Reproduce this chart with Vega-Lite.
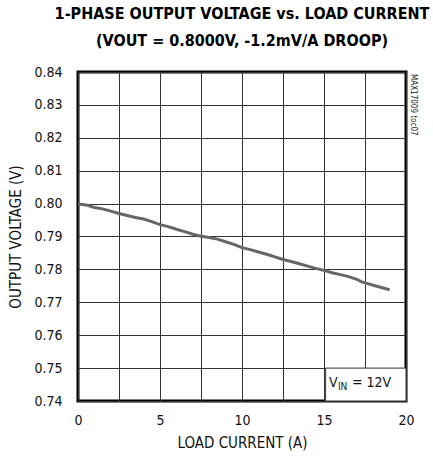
{
  "$schema": "https://vega.github.io/schema/vega-lite/v6.json",
  "autosize": "none",
  "width": 328,
  "height": 329,
  "padding": {"left": 78, "top": 72, "right": 27, "bottom": 58},
  "background": "white",
  "config": {
    "font": "DejaVu Sans Condensed",
    "view": {"stroke": "black", "strokeWidth": 3},
    "axis": {"labelFont": "DejaVu Sans Condensed", "titleFont": "DejaVu Sans Condensed", "labelColor": "#111", "titleColor": "#111", "labelFontSize": 14, "titleFontSize": 15, "titleFontWeight": "normal", "ticks": false, "domain": false, "gridColor": "#333", "gridWidth": 1, "gridOpacity": 1, "labelOverlap": false}
  },
  "title": {
    "text": ["1-PHASE OUTPUT VOLTAGE vs. LOAD CURRENT", "(VOUT = 0.8000V, -1.2mV/A DROOP)"],
    "font": "DejaVu Sans Condensed",
    "fontSize": 16,
    "fontWeight": "bold",
    "color": "black",
    "anchor": "middle",
    "lineHeight": 27,
    "offset": 16
  },
  "datasets": {
    "curve": [
      {"x": 0, "y": 0.7999}, {"x": 0.5, "y": 0.7996}, {"x": 1, "y": 0.7988}, {"x": 1.5, "y": 0.7984},
      {"x": 2, "y": 0.7977}, {"x": 2.5, "y": 0.7970}, {"x": 3, "y": 0.7964}, {"x": 3.5, "y": 0.7958},
      {"x": 4, "y": 0.7953}, {"x": 4.5, "y": 0.7945}, {"x": 5, "y": 0.7936}, {"x": 5.5, "y": 0.7930},
      {"x": 6, "y": 0.7922}, {"x": 6.5, "y": 0.7915}, {"x": 7, "y": 0.7907}, {"x": 7.5, "y": 0.7901},
      {"x": 8, "y": 0.7897}, {"x": 8.5, "y": 0.7892}, {"x": 9, "y": 0.7884}, {"x": 9.5, "y": 0.7876},
      {"x": 10, "y": 0.7866}, {"x": 10.5, "y": 0.7860}, {"x": 11, "y": 0.7853}, {"x": 11.5, "y": 0.7846},
      {"x": 12, "y": 0.7838}, {"x": 12.5, "y": 0.7830}, {"x": 13, "y": 0.7824}, {"x": 13.5, "y": 0.7817},
      {"x": 14, "y": 0.7810}, {"x": 14.5, "y": 0.7803}, {"x": 15, "y": 0.7797}, {"x": 15.5, "y": 0.7790},
      {"x": 16, "y": 0.7784}, {"x": 16.5, "y": 0.7778}, {"x": 17, "y": 0.7770}, {"x": 17.3, "y": 0.7762},
      {"x": 17.5, "y": 0.7759}, {"x": 18, "y": 0.7752}, {"x": 18.5, "y": 0.7745}, {"x": 19, "y": 0.7738}
    ],
    "box": [{"x": 15.1, "x2": 20, "y": 0.74, "y2": 0.75}],
    "note": [{"x": 20, "y": 0.84, "t": "MAX17009 toc07"}],
    "vin": [{"x": 15.3, "y": 0.7443}]
  },
  "encoding": {
    "x": {"field": "x", "type": "quantitative", "title": "LOAD CURRENT (A)",
          "scale": {"domain": [0, 20], "nice": false},
          "axis": {"values": [0, 2.5, 5, 7.5, 10, 12.5, 15, 17.5, 20], "labelExpr": "datum.value % 5 == 0 ? datum.label : ''", "labelPadding": 12, "titlePadding": 8, "labelFlush": false}},
    "y": {"field": "y", "type": "quantitative", "title": "OUTPUT VOLTAGE (V)",
          "scale": {"domain": [0.74, 0.84], "nice": false, "zero": false},
          "axis": {"values": [0.74, 0.75, 0.76, 0.77, 0.78, 0.79, 0.8, 0.81, 0.82, 0.83, 0.84], "format": ".2f", "labelPadding": 16, "titlePadding": 10, "labelOverlap": false}}
  },
  "layer": [
    {
      "data": {"name": "curve"},
      "mark": {"type": "line", "color": "#666", "strokeWidth": 3}
    },
    {
      "data": {"name": "box"},
      "mark": {"type": "rect", "fill": "white", "stroke": "#333", "strokeWidth": 1},
      "encoding": {
        "x2": {"field": "x2"},
        "y2": {"field": "y2"}
      }
    },
    {
      "data": {"name": "vin"},
      "layer": [
        {"mark": {"type": "text", "text": "V", "align": "left", "baseline": "alphabetic", "fontSize": 14, "color": "#111"}},
        {"mark": {"type": "text", "text": "IN", "align": "left", "baseline": "alphabetic", "fontSize": 10, "dx": 9, "dy": 3, "color": "#111"}},
        {"mark": {"type": "text", "text": "= 12V", "align": "left", "baseline": "alphabetic", "fontSize": 14, "dx": 23, "color": "#111"}}
      ]
    },
    {
      "data": {"name": "note"},
      "mark": {"type": "text", "angle": 90, "align": "left", "baseline": "bottom", "fontSize": 8, "font": "DejaVu Sans Condensed", "color": "#222", "dx": 2, "dy": -3},
      "encoding": {
        "text": {"field": "t"}
      }
    }
  ]
}
